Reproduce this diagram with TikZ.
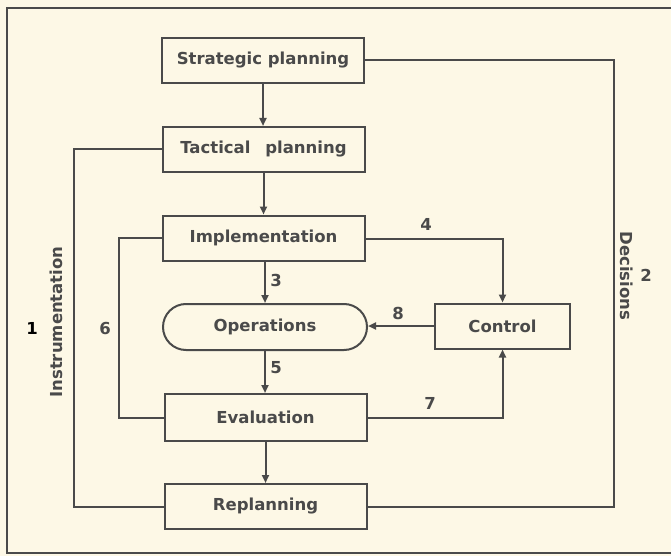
\documentclass[tikz,border=0pt]{standalone}
\usepackage{fontspec}
\setmainfont{DejaVu Sans}
\usetikzlibrary{arrows.meta,shapes.misc}
\definecolor{paper}{RGB}{253,248,230}
\definecolor{ink}{RGB}{74,74,74}
\tikzset{
  blk/.style={draw=ink, line width=2pt, minimum width=202pt, minimum height=45pt, inner sep=0pt, text=ink, font=\bfseries\fontsize{16.5}{19}\selectfont},
  pill/.style={blk, rounded rectangle},
  conn/.style={draw=ink, line width=2pt},
  arr/.style={conn, -{Triangle[length=8pt,width=7pt]}},
  lbl/.style={text=ink, font=\bfseries\fontsize{16.5}{19}\selectfont, inner sep=0pt},
}
\begin{document}
\begin{tikzpicture}[x=1pt,y=-1pt]
\useasboundingbox (0,0) rectangle (671,556);
\fill[paper] (0,0) rectangle (671,556);
% frame
\draw[conn] (680,8) -- (6.5,8) -- (6.5,553) -- (680,553);
% nodes
\node[blk] (S) at (263,60.5) {Strategic planning};
\node[blk] (T) at (263.5,149.5) {Tactical\hspace{0.9em}planning};
\node[blk] (I) at (263.5,238) {Implementation};
\node[pill, minimum width=204pt, minimum height=46pt] (O) at (265,327) {Operations};
\node[blk, minimum width=135pt] (C) at (502.5,326) {Control};
\node[blk, minimum height=47pt] (E) at (265.5,417.5) {Evaluation};
\node[blk] (R) at (265.5,506.5) {Replanning};
% helper coordinates
\coordinate (dx) at (614,0);
\coordinate (ix) at (74,0);
\coordinate (sx) at (118.5,0);
% vertical chain
\draw[arr] (S.south) -- (S.south |- T.north);
\draw[arr] (T.south) -- (T.south |- I.north);
\draw[arr] (I.south -| O.north) -- (O.north);
\draw[arr] (O.south) -- (O.south |- E.north);
\draw[arr] (E.south) -- (R.north);
% loops
\draw[conn] (S.east) -- (S.east -| dx) -- (R.east -| dx) -- (R.east);
\draw[conn] (T.west) -- (T.west -| ix) -- (R.west -| ix) -- (R.west);
\draw[conn] (I.west) -- (I.west -| sx) -- (E.west -| sx) -- (E.west);
\draw[arr] ([yshift=-1pt]I.east) -| (C.north);
\draw[arr] (E.east) -| (C.south);
\draw[arr] (C.west) -- (C.west -| O.east);
% labels
\node[lbl, rotate=90] (linstr) at (56.5,322) {Instrumentation};
\node[lbl, rotate=-90] (ldec) at (627,276) {Decisions};
\node[lbl, text=black] (l1) at (32,328) {1};
\node[lbl] (l2) at (646,275) {2};
\node[lbl] (l3) at (276,280) {3};
\node[lbl] (l4) at (426,224) {4};
\node[lbl] (l5) at (276,368) {5};
\node[lbl] (l6) at (105,328) {6};
\node[lbl] (l7) at (430,403) {7};
\node[lbl] (l8) at (398,313) {8};
\end{tikzpicture}
\end{document}
